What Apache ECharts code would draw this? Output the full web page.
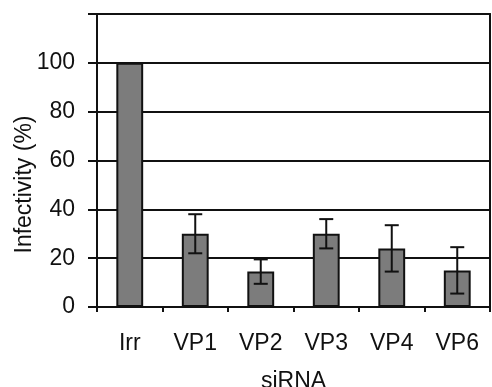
<!DOCTYPE html>
<html>
<head>
<meta charset="utf-8">
<script src="https://cdn.jsdelivr.net/npm/echarts@6/dist/echarts.min.js"></script>
<style>
  html, body { margin: 0; padding: 0; background: #fff; }
  #chart { width: 492px; height: 387px; }
</style>
</head>
<body>
<div id="chart"></div>
<script>
const categories = ['Irr', 'VP1', 'VP2', 'VP3', 'VP4', 'VP6']
const infectivity = [100, 30, 14.5, 30, 24, 15]
const errors = [0, 8, 5, 6, 9.5, 9.5]
const yTicks = [0, 20, 40, 60, 80, 100]

const font = '"Liberation Sans", Arial, sans-serif'
const ink = '#111'

const chart = echarts.init(document.getElementById('chart'))

// error bars: vertical whisker with caps at both ends
function renderError(params, api) {
  const i = api.value(0)
  const v = api.value(1)
  const e = api.value(2)
  if (!e) return null
  const hi = api.coord([i, v + e])
  const lo = api.coord([i, v - e])
  const cap = 7
  const style = { stroke: ink, lineWidth: 2 }
  return {
    type: 'group',
    children: [
      { type: 'line', shape: { x1: hi[0], y1: hi[1], x2: lo[0], y2: lo[1] }, style },
      { type: 'line', shape: { x1: hi[0] - cap, y1: hi[1], x2: hi[0] + cap, y2: hi[1] }, style },
      { type: 'line', shape: { x1: lo[0] - cap, y1: lo[1], x2: lo[0] + cap, y2: lo[1] }, style },
    ],
  }
}

// plain frame axes for the top and right edges of the plot box
const frame = {
  axisLine: { show: true, onZero: false, lineStyle: { color: ink, width: 2 } },
  axisTick: { show: false },
  axisLabel: { show: false },
  splitLine: { show: false },
}

chart.setOption({
  backgroundColor: '#fff',
  animation: false,
  grid: { left: 97, right: 2, top: 14, bottom: 80, containLabel: false, outerBoundsMode: 'none' },
  xAxis: [
    {
      type: 'category',
      data: categories,
      name: 'siRNA',
      nameLocation: 'middle',
      nameGap: 63,
      nameMoveOverlap: false,
      nameTextStyle: { fontFamily: font, fontSize: 23, color: ink },
      axisLine: { onZero: false, lineStyle: { color: ink, width: 2 } },
      axisTick: { show: true, length: 5, lineStyle: { color: ink, width: 2 } },
      axisLabel: { fontFamily: font, fontSize: 23, color: ink, margin: 25 },
    },
    { type: 'category', data: categories, position: 'top', ...frame },
  ],
  yAxis: [
    {
      type: 'value',
      min: 0,
      max: 120,
      interval: 20,
      name: 'Infectivity (%)',
      nameLocation: 'middle',
      nameGap: 61,
      nameRotate: 90,
      nameMoveOverlap: false,
      nameTextStyle: { fontFamily: font, fontSize: 23, color: ink, padding: [0, 48, 0, 0] },
      axisLine: { show: true, onZero: false, lineStyle: { color: ink, width: 2 } },
      axisTick: { show: true, length: 9, lineStyle: { color: ink, width: 2 } },
      axisLabel: {
        fontFamily: font, fontSize: 23, color: ink, margin: 22,
        formatter: (v) => (yTicks.includes(v) ? String(v) : ''),
      },
      splitLine: { lineStyle: { color: ink, width: 2 } },
    },
    { type: 'value', min: 0, max: 120, interval: 20, position: 'right', ...frame },
  ],
  series: [
    {
      type: 'bar',
      data: infectivity,
      barWidth: '41%',
      itemStyle: { color: '#7c7c7c', borderColor: ink, borderWidth: 2 },
    },
    {
      type: 'custom',
      renderItem: renderError,
      data: categories.map((c, i) => [i, infectivity[i], errors[i]]),
      z: 10,
    },
  ],
})
</script>
</body>
</html>
